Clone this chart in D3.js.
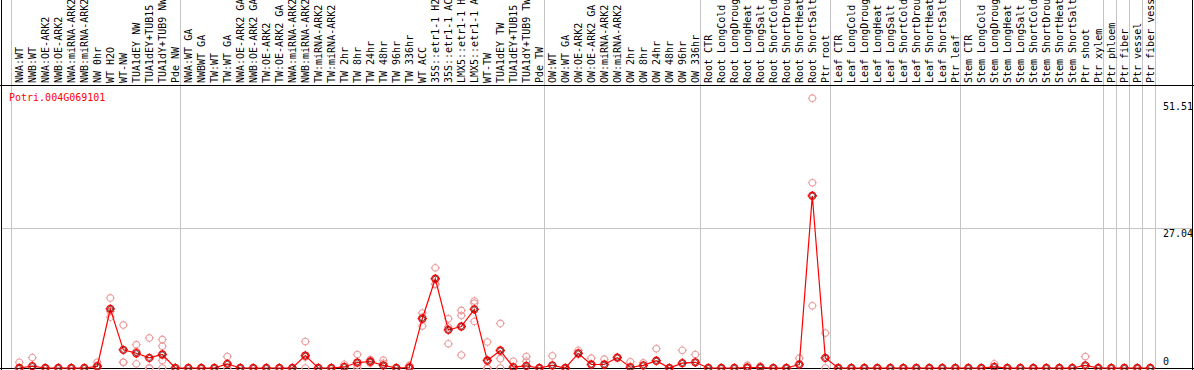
<!DOCTYPE html>
<html>
<head>
<meta charset="utf-8">
<script src="https://cdn.jsdelivr.net/npm/d3@7/dist/d3.min.js"></script>
<style>
  html, body { margin: 0; padding: 0; background: #fff; }
  svg { display: block; }
  text { font-family: "DejaVu Sans Mono", "Liberation Mono", monospace; font-size: 10px; }
</style>
</head>
<body>
<svg id="chart" width="1194" height="370"></svg>
<script>
const geneName = "Potri.004G069101";

const categories = [
  "NWA:WT","NWB:WT","NWA:OE-ARK2","NWB:OE-ARK2","NWA:miRNA-ARK2","NWB:miRNA-ARK2","NW 0hr","WT H2O","WT-NW","TUA1dEY NW","TUA1dEY+TUB15 NW","TUA1dY+TUB9 NW","Pde NW",
  "NWA:WT GA","NWBWT GA","TW:WT","TW:WT GA","NWA:OE-ARK2 GA","NWB:OE-ARK2 GA","TW:OE-ARK2","TW:OE-ARK2 GA","NWA:miRNA-ARK2","NWB:miRNA-ARK2","TW:miRNA-ARK2","TW:miRNA-ARK2",
  "TW 2hr","TW 8hr","TW 24hr","TW 48hr","TW 96hr","TW 336hr","WT ACC","35S::etr1-1 H2O","35S::etr1-1 ACC","LMX5::etr1-1 H2O","LMX5::etr1-1 ACC","WT-TW","TUA1dEY TW","TUA1dEY+TUB15 TW","TUA1dY+TUB9 TW","Pde TW",
  "OW:WT","OW:WT GA","OW:OE-ARK2","OW:OE-ARK2 GA","OW:miRNA-ARK2","OW:miRNA-ARK2","OW 2hr","OW 8hr","OW 24hr","OW 48hr","OW 96hr","OW 336hr",
  "Root CTR","Root LongCold","Root LongDrought","Root LongHeat","Root LongSalt","Root ShortCold","Root ShortDrought","Root ShortHeat","Root ShortSalt","Ptr root",
  "Leaf CTR","Leaf LongCold","Leaf LongDrought","Leaf LongHeat","Leaf LongSalt","Leaf ShortCold","Leaf ShortDrought","Leaf ShortHeat","Leaf ShortSalt","Ptr leaf",
  "Stem CTR","Stem LongCold","Stem LongDrought","Stem LongHeat","Stem LongSalt","Stem ShortCold","Stem ShortDrought","Stem ShortHeat","Stem ShortSalt","Ptr shoot","Ptr xylem",
  "Ptr phloem","Ptr fiber","Ptr vessel","Ptr fiber vessel"
];

// indices (column boundaries) where a gray separator is drawn
const groupBreaks = [0, 13, 41, 53, 63, 73, 84, 85, 86, 87, 88];

const meanValues = [
  0, 0.35, 0, 0, 0, 0, 0.3, 11.4, 3.5, 2.85, 1.95, 2.6, 0,
  0, 0, 0, 0.8, 0, 0, 0, 0, 0, 2.4, 0, 0,
  0.2, 1.05, 1.25, 0.5, 0, 0.1, 9.5, 17.2, 7.35, 8.0, 11.3, 1.45, 3.37, 0.15, 0.4, 0,
  0.5, 0, 2.8, 0.67, 0.67, 2.0, 0.15, 0.5, 1.4, 0, 0.95, 1.1,
  0, 0, 0, 0.1, 0.1, 0, 0, 0.67, 33.2, 1.95,
  0, 0, 0, 0, 0, 0, 0, 0, 0, 0,
  0, 0, 0.2, 0, 0, 0, 0, 0, 0, 0.5, 0,
  0, 0, 0, 0
];

const replicateValues = [
  [1.1], [2.0], [], [], [], [], [1.1, 0.5], [13.5, 9.8, 10.9], [8.3, 1.1, 1.1], [4.5, 0.8, 3.2], [5.8, 0, 0], [5.5, 4.2, 1.45, 0], [],
  [], [], [], [2.2, 0], [], [], [], [], [], [5.1, 2.1, 0], [], [],
  [0.7], [2.6, 0.55, 0], [1.6, 1.2, 0.9], [1.5, 0.9], [], [0.5], [10.6, 8.1, 9.8], [19.3, 16.1, 16.2], [9.5, 4.65, 7.9], [11.1, 10.1, 2.5], [12.9, 12.5, 8.96], [5.0, 0, 0], [8.6, 1.8, 0], [1.3], [2.2, 1.3], [],
  [2.35], [], [3.4, 2.9], [1.9], [1.7], [2.1], [1.2], [1.0], [3.7], [], [3.4], [2.6],
  [], [], [], [0.55], [0.35], [], [], [1.9], [52.0, 35.7, 12.0], [6.75, 0],
  [], [], [], [], [], [], [], [], [], [],
  [], [], [0.8], [], [], [], [], [], [], [2.2], [],
  [], [], [], []
];

const yTicks = [0, 27.04, 51.51];
const yMax = 54.08;

const svg = d3.select("#chart");
const W = 1194, H = 370;
const headerY = 85, baseY = 368, leftX = 1.5, rightX = 1192.5;

const x = d3.scaleBand().domain(d3.range(categories.length)).range([11, 1155]).paddingInner(0).paddingOuter(0);
const y = d3.scaleLinear().domain([0, yMax]).range([368, 87.4]);
const px = i => x(i) + 8.3;
const edge = d => (d < categories.length ? x(d) : x(categories.length - 1) + x.bandwidth());

// separators
svg.append("g").selectAll("line").data(groupBreaks).join("line")
  .attr("x1", d => Math.round(edge(d)) + 0.5)
  .attr("x2", d => Math.round(edge(d)) + 0.5)
  .attr("y1", 0).attr("y2", baseY)
  .attr("stroke", "#c4c4c4").attr("stroke-width", 1);

// gridline at the middle tick
svg.append("line")
  .attr("x1", leftX).attr("x2", rightX)
  .attr("y1", Math.round(y(27.04)) + 0.5).attr("y2", Math.round(y(27.04)) + 0.5)
  .attr("stroke", "#c4c4c4").attr("stroke-width", 1);

// frame
svg.append("line").attr("x1", 0).attr("x2", W).attr("y1", headerY + 0.5).attr("y2", headerY + 0.5).attr("stroke", "#000");
svg.append("line").attr("x1", 0).attr("x2", W).attr("y1", baseY + 0.5).attr("y2", baseY + 0.5).attr("stroke", "#000");
svg.append("line").attr("x1", leftX).attr("x2", leftX).attr("y1", 0).attr("y2", H).attr("stroke", "#000");
svg.append("line").attr("x1", rightX).attr("x2", rightX).attr("y1", 0).attr("y2", H).attr("stroke", "#000");

// category labels
svg.append("g").selectAll("text").data(categories).join("text")
  .attr("transform", (d, i) => `translate(${x(i) + 11.5},83) rotate(-90)`)
  .attr("text-anchor", "start")
  .attr("fill", "#000")
  .text(d => d);

// gene label
svg.append("text").attr("x", 9).attr("y", 101).attr("fill", "#ff0000").text(geneName);

// y labels
svg.append("g").selectAll("text").data(yTicks).join("text")
  .attr("x", 1163)
  .attr("y", d => d === 0 ? y(d) - 3.5 : y(d) + 8.8)
  .attr("fill", "#000")
  .text(d => d === 0 ? "0" : d3.format(".2f")(d));

// marker shape: circle with four small ticks
function markerPath(r, t) {
  const p = d3.path();
  p.moveTo(r, 0); p.arc(0, 0, r, 0, 2 * Math.PI);
  p.moveTo(0, -r); p.lineTo(0, -r - t);
  p.moveTo(0, r); p.lineTo(0, r + t);
  p.moveTo(-r, 0); p.lineTo(-r - t, 0);
  p.moveTo(r, 0); p.lineTo(r + t, 0);
  return p.toString();
}

// replicates
const reps = [];
replicateValues.forEach((arr, i) => arr.forEach(v => reps.push({ i, v })));
svg.append("g").selectAll("path").data(reps).join("path")
  .attr("transform", d => `translate(${px(d.i)},${y(d.v)})`)
  .attr("d", markerPath(3.3, 1.2))
  .attr("fill", "none").attr("stroke", "#ec9a9a").attr("stroke-width", 1.1);

// mean line
svg.append("path")
  .datum(meanValues)
  .attr("d", d3.line().x((d, i) => px(i)).y(d => y(d)))
  .attr("fill", "none").attr("stroke", "#ff0000").attr("stroke-width", 1.2);

// mean markers
const mg = svg.append("g").selectAll("g").data(meanValues).join("g")
  .attr("transform", (d, i) => `translate(${px(i)},${y(d)})`);
mg.append("path").attr("d", markerPath(3.5, 1.2))
  .attr("fill", "none").attr("stroke", "#ff0000").attr("stroke-width", 1.3);
mg.append("circle").attr("r", 2.5)
  .attr("fill", "none").attr("stroke", "#400000").attr("stroke-width", 0.7);
</script>
</body>
</html>
